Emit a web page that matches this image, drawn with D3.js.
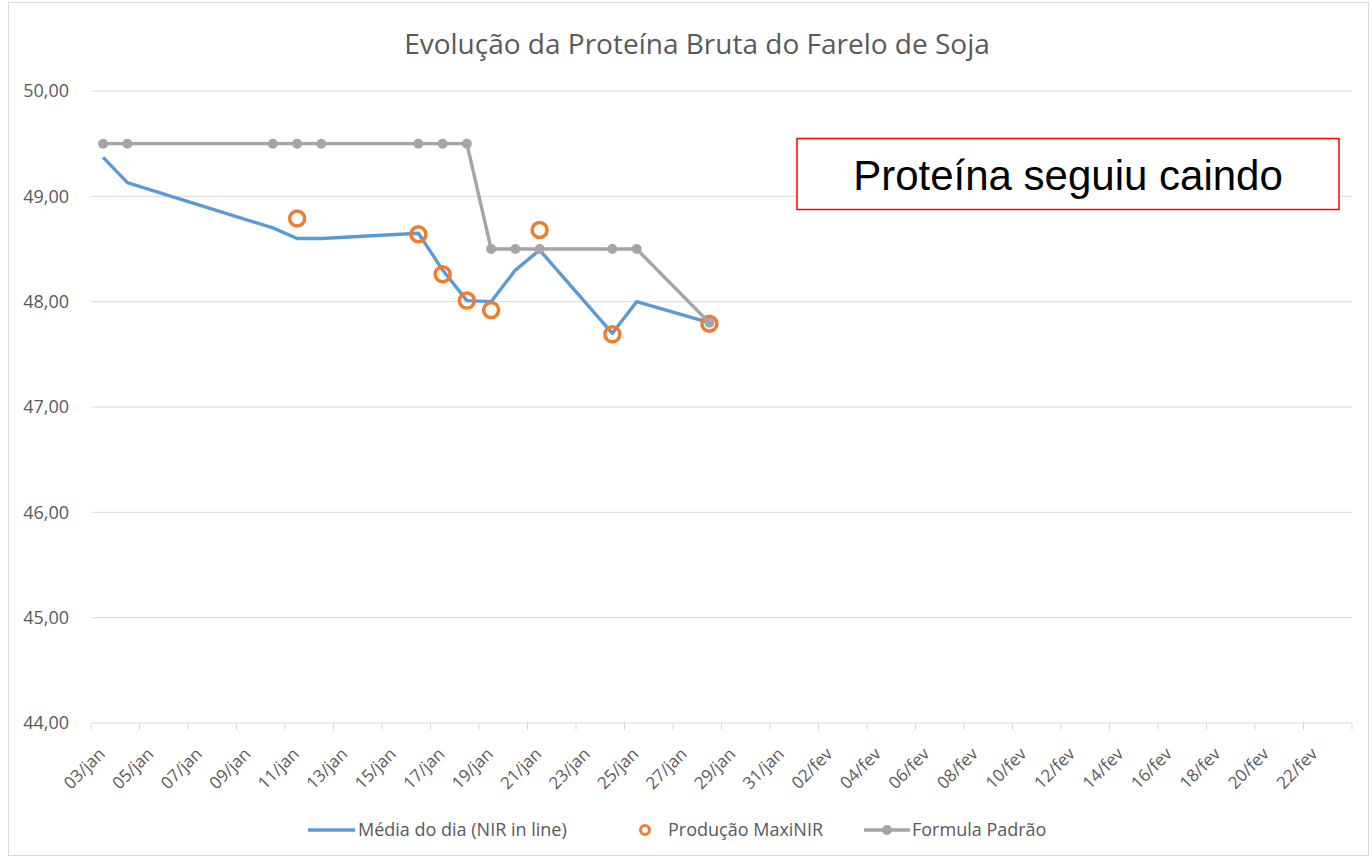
<!DOCTYPE html>
<html>
<head>
<meta charset="utf-8">
<script src="https://cdn.jsdelivr.net/npm/d3@7"></script>
<style>
  body { margin: 0; background: #fff; }
  svg { display: block; }
</style>
</head>
<body>
<script>
// dados
var diasMedia = ["2019-01-03", "2019-01-04", "2019-01-10", "2019-01-11", "2019-01-12", "2019-01-16", "2019-01-17",
                 "2019-01-18", "2019-01-19", "2019-01-20", "2019-01-21", "2019-01-24", "2019-01-25", "2019-01-28"];
var mediaDia = [49.37, 49.13, 48.70, 48.60, 48.60, 48.65, 48.30, 48.01, 48.00, 48.30, 48.49, 47.70, 48.00, 47.80];
var formulaPadrao = [49.5, 49.5, 49.5, 49.5, 49.5, 49.5, 49.5, 49.5, 48.5, 48.5, 48.5, 48.5, 48.5, 47.8];

var diasMaxi = ["2019-01-11", "2019-01-16", "2019-01-17", "2019-01-18", "2019-01-19", "2019-01-21", "2019-01-24", "2019-01-28"];
var producaoMaxi = [48.79, 48.64, 48.26, 48.01, 47.92, 48.68, 47.69, 47.79];

var yTicks = [44, 45, 46, 47, 48, 49, 50];
var meses = ["jan", "fev"];
var legenda = ["Média do dia (NIR in line)", "Produção MaxiNIR", "Formula Padrão"];

var width = 1372,
    height = 859,
    margin = { top: 91, right: 20, bottom: 136, left: 91 };

var parse = d3.timeParse("%Y-%m-%d");
var fontUI = "'Open Sans', 'Noto Sans', sans-serif";

var svg = d3.select("body").append("svg")
    .attr("width", width)
    .attr("height", height);

// borda do grafico
svg.append("rect")
    .attr("x", 8.5).attr("y", 2.5)
    .attr("width", width - 12).attr("height", height - 6)
    .attr("fill", "#fff")
    .attr("stroke", "#d9d9d9");

var x = d3.scaleTime()
    .domain([new Date(2019, 0, 2, 12), new Date(2019, 1, 23, 12)])
    .range([margin.left, width - margin.right]);

var y = d3.scaleLinear()
    .domain([44, 50])
    .range([height - margin.bottom, margin.top]);

// grade horizontal
svg.append("g")
    .selectAll("line")
    .data(yTicks.slice(1))
    .enter().append("line")
    .attr("x1", margin.left).attr("x2", width - margin.right)
    .attr("y1", function (d) { return y(d); })
    .attr("y2", function (d) { return y(d); })
    .attr("stroke", "#d9d9d9")
    .attr("stroke-width", 1);

// eixo y
var yAxis = svg.append("g")
    .attr("transform", "translate(" + (margin.left - 19) + ",0)")
    .call(d3.axisLeft(y).tickValues(yTicks).tickSize(0)
        .tickFormat(function (d) { return d3.format(".2f")(d).replace(".", ","); }));
yAxis.select(".domain").remove();
yAxis.selectAll("text")
    .attr("font-family", fontUI)
    .attr("font-size", 18)
    .attr("fill", "#595959");

// eixo x: rotulos a cada 2 dias, marcas entre os dias
var diasLabel = d3.timeDay.range(new Date(2019, 0, 3), new Date(2019, 1, 23), 2);
var marcas = d3.timeDay.range(new Date(2019, 0, 3), new Date(2019, 1, 25), 2)
    .map(function (d) { return d3.timeHour.offset(d, -12); });

var xg = svg.append("g")
    .attr("transform", "translate(0," + y(44) + ")");
xg.append("line")
    .attr("x1", margin.left).attr("x2", width - margin.right)
    .attr("stroke", "#d9d9d9");
xg.selectAll(".marca")
    .data(marcas)
    .enter().append("line")
    .attr("class", "marca")
    .attr("x1", function (d) { return x(d); })
    .attr("x2", function (d) { return x(d); })
    .attr("y1", 0).attr("y2", 7)
    .attr("stroke", "#d9d9d9");
xg.selectAll(".rotulo")
    .data(diasLabel)
    .enter().append("text")
    .attr("class", "rotulo")
    .attr("text-anchor", "end")
    .attr("font-family", fontUI)
    .attr("font-size", 17)
    .attr("fill", "#595959")
    .attr("transform", function (d) {
        return "translate(" + (x(d) + 3) + ",32) rotate(-45)";
    })
    .text(function (d) { return d3.timeFormat("%d")(d) + "/" + meses[d.getMonth()]; });

// series
var media = diasMedia.map(function (d, i) { return { data: parse(d), v: mediaDia[i] }; });
var formula = diasMedia.map(function (d, i) { return { data: parse(d), v: formulaPadrao[i] }; });
var maxi = diasMaxi.map(function (d, i) { return { data: parse(d), v: producaoMaxi[i] }; });

var linha = d3.line()
    .x(function (d) { return x(d.data); })
    .y(function (d) { return y(d.v); });

svg.append("path")
    .datum(media)
    .attr("d", linha)
    .attr("fill", "none")
    .attr("stroke", "#5b9bd5")
    .attr("stroke-width", 3.4)
    .attr("stroke-linejoin", "round");

svg.append("g")
    .selectAll("circle")
    .data(maxi)
    .enter().append("circle")
    .attr("cx", function (d) { return x(d.data); })
    .attr("cy", function (d) { return y(d.v); })
    .attr("r", 7.5)
    .attr("fill", "none")
    .attr("stroke", "#ed7d31")
    .attr("stroke-width", 3.5);

svg.append("path")
    .datum(formula)
    .attr("d", linha)
    .attr("fill", "none")
    .attr("stroke", "#a5a5a5")
    .attr("stroke-width", 3.4)
    .attr("stroke-linejoin", "round");

svg.append("g")
    .selectAll("circle")
    .data(formula)
    .enter().append("circle")
    .attr("cx", function (d) { return x(d.data); })
    .attr("cy", function (d) { return y(d.v); })
    .attr("r", 5)
    .attr("fill", "#a5a5a5");

// titulo
svg.append("text")
    .attr("x", 697).attr("y", 54)
    .attr("text-anchor", "middle")
    .attr("font-family", fontUI)
    .attr("font-size", 28)
    .attr("fill", "#595959")
    .text("Evolução da Proteína Bruta do Farelo de Soja");

// caixa de anotacao
svg.append("rect")
    .attr("x", 797).attr("y", 138.5)
    .attr("width", 542).attr("height", 71)
    .attr("fill", "#fff")
    .attr("stroke", "#ff0000")
    .attr("stroke-width", 1.5);
svg.append("text")
    .attr("x", 1068).attr("y", 190)
    .attr("text-anchor", "middle")
    .attr("font-family", "'Liberation Sans', Arial, sans-serif")
    .attr("font-size", 42)
    .attr("fill", "#000")
    .text("Proteína seguiu caindo");

// legenda
var ly = 830;
var leg = svg.append("g").attr("font-family", fontUI).attr("font-size", 18).attr("fill", "#595959");
leg.append("line").attr("x1", 308).attr("x2", 355).attr("y1", ly).attr("y2", ly)
    .attr("stroke", "#5b9bd5").attr("stroke-width", 3.4);
leg.append("text").attr("x", 358).attr("y", ly + 6).text(legenda[0]);
leg.append("circle").attr("cx", 645).attr("cy", ly).attr("r", 4.5)
    .attr("fill", "none").attr("stroke", "#ed7d31").attr("stroke-width", 3);
leg.append("text").attr("x", 668).attr("y", ly + 6).text(legenda[1]);
leg.append("line").attr("x1", 864).attr("x2", 910).attr("y1", ly).attr("y2", ly)
    .attr("stroke", "#a5a5a5").attr("stroke-width", 3.4);
leg.append("circle").attr("cx", 887).attr("cy", ly).attr("r", 5).attr("fill", "#a5a5a5");
leg.append("text").attr("x", 912).attr("y", ly + 6).text(legenda[2]);
</script>
</body>
</html>
